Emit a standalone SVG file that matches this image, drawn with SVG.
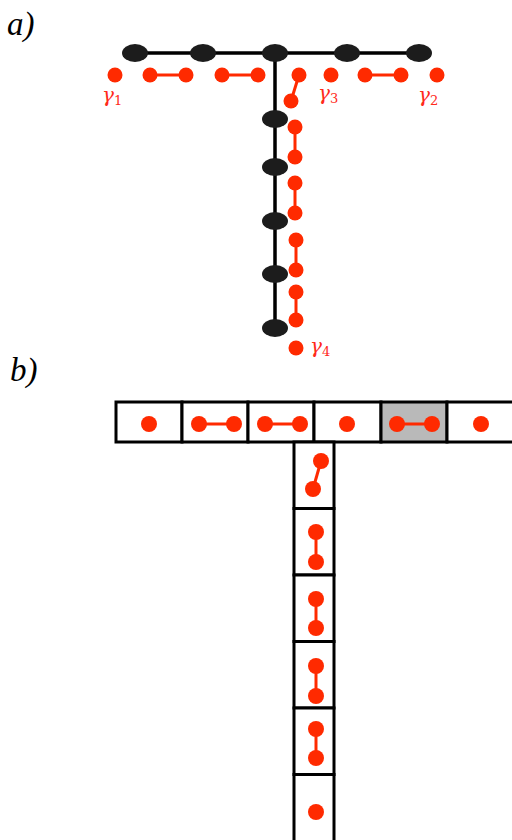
<svg xmlns="http://www.w3.org/2000/svg" width="512" height="840" viewBox="0 0 512 840">
<style>
.lbl{font-family:"Liberation Serif","DejaVu Serif",serif;font-style:italic;font-size:33px;fill:#000}
.g{font-family:"DejaVu Serif","Liberation Serif",serif;font-style:italic;font-size:20px;fill:#ff2a1a}
.sub{font-size:13px;font-style:normal}
.blk{stroke:#000;stroke-width:3.5;fill:none}
.site{fill:#1c1c1c}
.rd{fill:#ff2a00}
.rl{stroke:#ff2a00;stroke-width:3;fill:none}
.box{fill:#fff;stroke:#000;stroke-width:3}
.gray{fill:#b9b9b9;stroke:#000;stroke-width:3}
</style>
<rect width="512" height="840" fill="#fff"/>
<text class="lbl" x="7" y="35">a)</text>
<text class="lbl" x="10" y="381">b)</text>

<!-- part a: lattice -->
<g id="lattice-a">
<g id="connectors-a">
<path class="blk" d="M128 53 H424 M275 53 V330"/>
</g>
<g id="sites">
<ellipse class="site" cx="135" cy="53" rx="13" ry="9"/>
<ellipse class="site" cx="203" cy="53" rx="13" ry="9"/>
<ellipse class="site" cx="275" cy="53" rx="13" ry="9"/>
<ellipse class="site" cx="347" cy="53" rx="13" ry="9"/>
<ellipse class="site" cx="419" cy="53" rx="13" ry="9"/>
<ellipse class="site" cx="275" cy="119" rx="13" ry="9"/>
<ellipse class="site" cx="275" cy="167" rx="13" ry="9"/>
<ellipse class="site" cx="275" cy="221" rx="13" ry="9"/>
<ellipse class="site" cx="275" cy="274" rx="13" ry="9"/>
<ellipse class="site" cx="275" cy="328" rx="13" ry="9"/>
</g>
</g>

<g id="connectors-red-a">
<path class="rl" d="M150 75 H186 M222 75 H258 M365 75 H401 M299 75 L291 101 M295 127 V157 M295 183 V213 M296 240 V270 M296 292 V320"/>
</g>
<g id="dots-a">
<circle class="rd" cx="115" cy="75" r="7.5"/>
<circle class="rd" cx="150" cy="75" r="7.5"/>
<circle class="rd" cx="186" cy="75" r="7.5"/>
<circle class="rd" cx="222" cy="75" r="7.5"/>
<circle class="rd" cx="258" cy="75" r="7.5"/>
<circle class="rd" cx="299" cy="75" r="7.5"/>
<circle class="rd" cx="331" cy="75" r="7.5"/>
<circle class="rd" cx="365" cy="75" r="7.5"/>
<circle class="rd" cx="401" cy="75" r="7.5"/>
<circle class="rd" cx="437" cy="75" r="7.5"/>
<circle class="rd" cx="291" cy="101" r="7.5"/>
<circle class="rd" cx="295" cy="127" r="7.5"/>
<circle class="rd" cx="295" cy="157" r="7.5"/>
<circle class="rd" cx="295" cy="183" r="7.5"/>
<circle class="rd" cx="295" cy="213" r="7.5"/>
<circle class="rd" cx="296" cy="240" r="7.5"/>
<circle class="rd" cx="296" cy="270" r="7.5"/>
<circle class="rd" cx="296" cy="292" r="7.5"/>
<circle class="rd" cx="296" cy="320" r="7.5"/>
<circle class="rd" cx="296" cy="348" r="7.5"/>
</g>
<g id="labels-a">
<text class="g" x="102" y="102">γ<tspan class="sub" dy="3">1</tspan></text>
<text class="g" x="418" y="102">γ<tspan class="sub" dy="3">2</tspan></text>
<text class="g" x="318" y="100">γ<tspan class="sub" dy="3">3</tspan></text>
<text class="g" x="310" y="353">γ<tspan class="sub" dy="3">4</tspan></text>
</g>

<!-- part b: boxes -->
<g id="boxes-b">
<g id="b1"><rect class="box" x="116" y="402" width="66" height="40"/><circle class="rd" cx="149" cy="424" r="8"/></g>
<g id="b2"><rect class="box" x="182" y="402" width="66" height="40"/><path class="rl" d="M199 424 H234"/><circle class="rd" cx="199" cy="424" r="8"/><circle class="rd" cx="234" cy="424" r="8"/></g>
<g id="b3"><rect class="box" x="248" y="402" width="66" height="40"/><path class="rl" d="M265 424 H300"/><circle class="rd" cx="265" cy="424" r="8"/><circle class="rd" cx="300" cy="424" r="8"/></g>
<g id="b4"><rect class="box" x="314" y="402" width="67" height="40"/><circle class="rd" cx="347" cy="424" r="8"/></g>
<g id="b5"><rect class="gray" x="381" y="402" width="66" height="40"/><path class="rl" d="M397 424 H432"/><circle class="rd" cx="397" cy="424" r="8"/><circle class="rd" cx="432" cy="424" r="8"/></g>
<g id="b6"><rect class="box" x="447" y="402" width="67" height="40"/><circle class="rd" cx="481" cy="424" r="8"/></g>
<g id="v1"><rect class="box" x="294" y="442" width="40" height="66.5"/><path class="rl" d="M321 461 L313 489"/><circle class="rd" cx="321" cy="461" r="8"/><circle class="rd" cx="313" cy="489" r="8"/></g>
<g id="v2"><rect class="box" x="294" y="508.5" width="40" height="66.5"/><path class="rl" d="M316 532 V562"/><circle class="rd" cx="316" cy="532" r="8"/><circle class="rd" cx="316" cy="562" r="8"/></g>
<g id="v3"><rect class="box" x="294" y="575" width="40" height="66.5"/><path class="rl" d="M316 599 V628"/><circle class="rd" cx="316" cy="599" r="8"/><circle class="rd" cx="316" cy="628" r="8"/></g>
<g id="v4"><rect class="box" x="294" y="641.5" width="40" height="66.5"/><path class="rl" d="M316 666 V696"/><circle class="rd" cx="316" cy="666" r="8"/><circle class="rd" cx="316" cy="696" r="8"/></g>
<g id="v5"><rect class="box" x="294" y="708" width="40" height="66.5"/><path class="rl" d="M316 729 V758"/><circle class="rd" cx="316" cy="729" r="8"/><circle class="rd" cx="316" cy="758" r="8"/></g>
<g id="v6"><rect class="box" x="294" y="774.5" width="40" height="68"/><circle class="rd" cx="316" cy="812" r="8"/></g>
</g>
</svg>
